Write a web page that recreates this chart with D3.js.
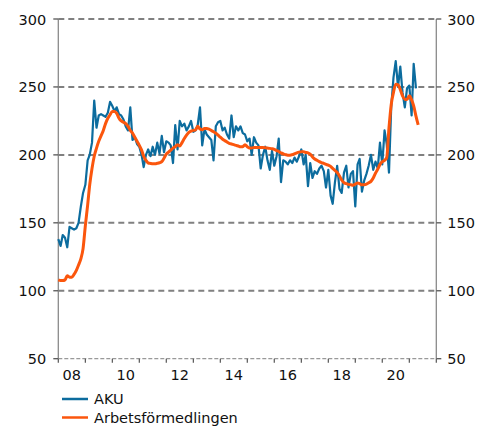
<!DOCTYPE html>
<html>
<head>
<meta charset="utf-8">
<script src="https://cdn.jsdelivr.net/npm/d3@7"></script>
<style>
  body { margin: 0; background: #fff; }
  svg { display: block; font-family: "DejaVu Sans", Verdana, sans-serif; }
</style>
</head>
<body>
<svg id="chart" width="489" height="427"></svg>
<script>
/*
 * Monthly series, first value is January 2008.
 */
var firstMonth = new Date(2008, 0, 1);

var seriesNames = ['AKU', 'Arbetsförmedlingen'];

var akuValues = [
  138, 133, 141, 139, 132, 147, 146, 145, 146, 150, 162, 172,   // 2008
  178, 196, 200, 209, 240, 220, 229, 230, 229, 228, 231, 239,   // 2009
  236, 232, 235, 230, 229, 226, 221, 218, 235, 211, 213, 208,   // 2010
  206, 200, 191, 200, 204, 199, 206, 200, 209, 201, 214, 202,   // 2011
  210, 209, 207, 194, 222, 204, 225, 221, 223, 218, 221, 225,   // 2012
  217, 218, 222, 235, 207, 219, 215, 213, 211, 196, 221, 224,   // 2013
  225, 218, 220, 215, 212, 229, 213, 221, 218, 221, 216, 215,   // 2014
  210, 212, 200, 213, 209, 207, 190, 200, 206, 196, 189, 203,   // 2015
  192, 199, 212, 180, 196, 195, 193, 196, 194, 198, 195, 199,   // 2016
  204, 193, 200, 177, 194, 183, 188, 186, 190, 192, 188, 176,   // 2017
  189, 170, 164, 180, 192, 175, 172, 187, 192, 176, 186, 188,   // 2018
  162, 193, 197, 173, 181, 186, 192, 200, 189, 195, 190, 209,   // 2019
  193, 218, 208, 187, 235, 257, 269, 250, 265, 246, 235, 249,   // 2020
  251, 229, 267, 249                                            // 2021
];

var afValues = [
  108, 107.5, 107.5, 108, 111, 110, 110, 112, 115, 119, 123.5, 131,                 // 2008
  148, 163, 178, 190, 199, 205, 210, 214, 218, 223, 227, 229.5,                     // 2009
  232, 232, 230.5, 227, 225, 224, 223, 221, 218, 216, 213, 210,                     // 2010
  207, 203.5, 199, 196, 194, 193.7, 193.5, 193.5, 193.8, 194.2, 195, 197.5,         // 2011
  200.5, 202, 203.5, 205, 206, 207.5, 206.5, 209, 212, 214.5, 216.5, 217.5,         // 2012
  218, 218.5, 221, 219, 218.5, 219.5, 219.5, 219, 218, 217, 216, 214.5,             // 2013
  213, 211.5, 210.5, 209.5, 208.5, 208, 207.5, 207, 206.5, 206, 206, 207.5,         // 2014
  206, 205, 205, 205.5, 205.5, 205.5, 205.5, 205.5, 205.2, 205, 204.8, 204.5,       // 2015
  204, 203.2, 202.5, 201.5, 200.8, 200.2, 199.8, 199.8, 200.2, 200.8, 201.5, 202,   // 2016
  202.3, 202.3, 201.8, 201.5, 200.5, 198.5, 197, 196, 195, 194.3, 193.7, 193,       // 2017
  192.5, 191.5, 190, 188.5, 187, 184.5, 181.5, 179.5, 178.8, 178.3, 178, 177.7,     // 2018
  178.5, 179.3, 178.8, 178, 178, 178.5, 179.5, 180.5, 183, 186.5, 189.5, 193,       // 2019
  195, 196, 198, 220, 237, 246, 252, 251.5, 248, 243.5, 241, 240.8,                 // 2020
  243.5, 240.5, 236, 228.5, 222                                                     // 2021
];

var seriesColors = ['#0c6c9e', '#fb560d'];

var yTicks = [50, 100, 150, 200, 250, 300];
var xLabelYears = [2008, 2010, 2012, 2014, 2016, 2018, 2020];
var xLabels = ['08', '10', '12', '14', '16', '18', '20'];

/*
 * Turn a value array into {date, value} points.
 */
function toPoints(values) {
  return values.map(function(v, i) {
    return { date: d3.timeMonth.offset(firstMonth, i), value: v };
  });
}

var svg = d3.select('#chart');

// plot box (window.top is reserved, so no bare "top")
var plotLeft = 58.3, plotRight = 436.3, plotTop = 19, plotBottom = 358.7;

var x = d3.scaleTime()
  .domain([new Date(2008, 0, 1), new Date(2022, 0, 1)])
  .range([plotLeft, plotRight]);

var y = d3.scaleLinear()
  .domain([50, 300])
  .range([plotBottom, plotTop]);

// dashed grid lines
svg.append('g').selectAll('line')
  .data(yTicks.filter(function(t) { return t > 50; }))
  .enter().append('line')
  .attr('x1', plotLeft).attr('x2', plotRight)
  .attr('y1', function(d) { return y(d); })
  .attr('y2', function(d) { return y(d); })
  .attr('stroke', '#808080')
  .attr('stroke-width', 2)
  .attr('stroke-dasharray', '6,4');

// bottom axis, lighter dashed line with year ticks
svg.append('line')
  .attr('x1', plotLeft).attr('x2', plotRight)
  .attr('y1', y(50)).attr('y2', y(50))
  .attr('stroke', '#999')
  .attr('stroke-width', 1.3)
  .attr('stroke-dasharray', '4,2');

svg.append('g').selectAll('line')
  .data(d3.timeYear.range(new Date(2008, 0, 1), new Date(2022, 0, 2)))
  .enter().append('line')
  .attr('x1', function(d) { return x(d); })
  .attr('x2', function(d) { return x(d); })
  .attr('y1', y(50)).attr('y2', y(50) + 4)
  .attr('stroke', '#555')
  .attr('stroke-width', 1.2);

svg.append('g').selectAll('text')
  .data(xLabelYears)
  .enter().append('text')
  .attr('x', function(d) { return x(new Date(d, 6, 1)); })
  .attr('y', 380)
  .attr('text-anchor', 'middle')
  .attr('font-size', '14.5px')
  .attr('fill', '#111')
  .text(function(d, i) { return xLabels[i]; });

// left and right value axes
[plotLeft, plotRight].forEach(function(ax, side) {
  svg.append('line')
    .attr('x1', ax).attr('x2', ax)
    .attr('y1', plotTop).attr('y2', plotBottom)
    .attr('stroke', '#8a8a8a')
    .attr('stroke-width', 1.3);

  var dir = side === 0 ? -1 : 1;

  svg.append('g').selectAll('line')
    .data(yTicks)
    .enter().append('line')
    .attr('x1', ax).attr('x2', ax + dir * 5)
    .attr('y1', function(d) { return y(d); })
    .attr('y2', function(d) { return y(d); })
    .attr('stroke', '#555')
    .attr('stroke-width', 1.3);

  svg.append('g').selectAll('text')
    .data(yTicks)
    .enter().append('text')
    .attr('x', side === 0 ? ax - 12 : ax + 11)
    .attr('y', function(d) { return y(d) + 5.5; })
    .attr('text-anchor', side === 0 ? 'end' : 'start')
    .attr('font-size', '14.5px')
    .attr('fill', '#111')
    .text(function(d) { return d; });
});

// the two series
var line = d3.line()
  .x(function(d) { return x(d.date); })
  .y(function(d) { return y(d.value); });

svg.append('path')
  .datum(toPoints(akuValues))
  .attr('d', line)
  .attr('fill', 'none')
  .attr('stroke', seriesColors[0])
  .attr('stroke-width', 2.2)
  .attr('stroke-linejoin', 'round');

svg.append('path')
  .datum(toPoints(afValues))
  .attr('d', line.curve(d3.curveMonotoneX))
  .attr('fill', 'none')
  .attr('stroke', seriesColors[1])
  .attr('stroke-width', 3)
  .attr('stroke-linejoin', 'round');

// legend
var legend = svg.append('g').selectAll('g')
  .data(seriesNames)
  .enter().append('g')
  .attr('transform', function(d, i) { return 'translate(62,' + (399 + i * 18.5) + ')'; });

legend.append('line')
  .attr('x1', 0).attr('x2', 26)
  .attr('stroke', function(d, i) { return seriesColors[i]; })
  .attr('stroke-width', 2.5);

legend.append('text')
  .attr('x', 32)
  .attr('y', 5)
  .attr('font-size', '14.5px')
  .attr('fill', '#111')
  .text(function(d) { return d; });
</script>
</body>
</html>
